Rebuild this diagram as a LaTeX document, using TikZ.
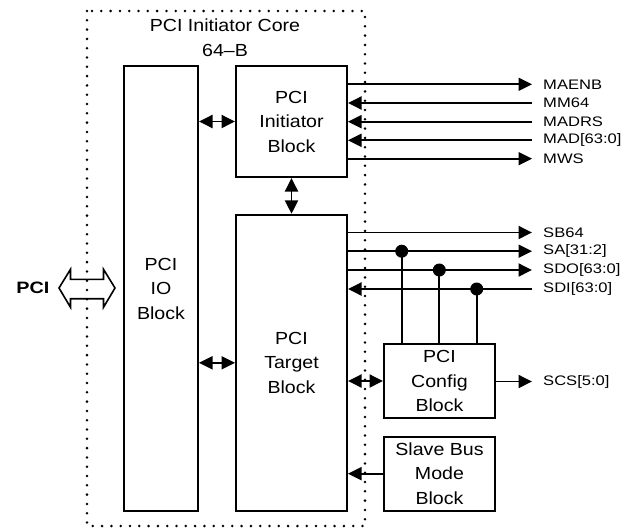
\documentclass[tikz,border=0pt]{standalone}
\usepackage{fontspec}
\setmainfont{Liberation Sans}
\newfontfamily\blkfont{Liberation Sans}[FakeStretch=1.12]
\newfontfamily\sigfont{Liberation Sans}[FakeStretch=1.2]
\newfontfamily\pcifont{Liberation Sans}[FakeStretch=1.2]
\usetikzlibrary{arrows.meta}
\tikzset{
  blk/.style={draw, line width=2pt, inner sep=0pt, align=center,
    font=\blkfont\fontsize{17.5}{24.5}\selectfont},
  sig/.style={line width=1.9pt},
  tipr/.style={-{Triangle[length=13.5pt,width=13pt]}},
  tipb/.style={{Triangle[length=13.5pt,width=13pt]}-{Triangle[length=13.5pt,width=13pt]}},
  lbl/.style={anchor=west, inner sep=0pt, font=\sigfont\fontsize{13.8}{15}\selectfont},
  dotframe/.style={line width=2.8pt, dash pattern=on 0pt off 9.3pt, line cap=round},
  junc/.style={circle, fill, inner sep=0pt, minimum size=13pt}
}
\begin{document}
\begin{tikzpicture}[x=1pt,y=-1pt]
\useasboundingbox (0,0) rectangle (634,530);
% dotted core frame
\draw[dotframe] (87,11) rectangle (365,526);
\node[align=center, font=\blkfont\fontsize{17.5}{25}\selectfont] (title) at (225,37.5) {PCI Initiator Core\\64–B};
% blocks
\node[blk, minimum width=74pt, minimum height=445pt] (io) at (161,288.5) {PCI\\IO\\Block};
\node[blk, minimum width=111pt, minimum height=111pt] (ini) at (291.5,121.5) {PCI\\Initiator\\Block};
\node[blk, minimum width=111pt, minimum height=296pt] (tgt) at (291.5,362.8) {PCI\\Target\\Block};
\node[blk, minimum width=111pt, minimum height=74pt] (cfg) at (439.5,381) {PCI\\Config\\Block};
\node[blk, minimum width=111pt, minimum height=74pt] (slv) at (439.5,473.7) {Slave Bus\\Mode\\Block};
% internal connections
\draw[sig,tipb] (io.east |- ini.west) -- (ini.west);
\draw[sig,tipb] (io.east |- tgt.west) -- (tgt.west);
\draw[sig,tipb] (ini.south) -- (tgt.north);
\draw[sig,tipb] (tgt.east |- cfg.west) -- (cfg.west);
\draw[sig,tipr] (slv.west) -- (tgt.east |- slv.west);
% PCI bus
\node[font=\pcifont\bfseries\fontsize{16.5}{18}\selectfont, inner sep=0pt] (pci) at (33,288) {PCI};
\coordinate (pl) at (59,288);
\coordinate (pr) at (115,288);
\draw[line width=1.6pt, line join=miter]
  (pl) -- (70.5,269.3) -- (70.5,279.3) -- (103.5,279.3) -- (103.5,269.3) -- (pr)
  -- (103.5,307.3) -- (103.5,298.7) -- (70.5,298.7) -- (70.5,307.3) -- cycle;
% initiator signals
\foreach \n/\y/\t in {maenb/84.3/MAENB, mm/103/MM64, madrs/121.7/MADRS, mad/140.3/MAD[63:0], mws/158.7/MWS}{
  \coordinate (\n) at (532,\y);
  \node[lbl] (\n l) at (543,\y) {\t};
}
\draw[sig,tipr] (ini.east |- maenb) -- (maenb);
\draw[sig,tipr] (mm) -- (ini.east |- mm);
\draw[sig,tipr] (madrs) -- (ini.east |- madrs);
\draw[sig,tipr] (mad) -- (ini.east |- mad);
\draw[sig,tipr] (ini.east |- mws) -- (mws);
% target signals
\foreach \n/\y/\t in {sb/232.5/SB64, sa/251.2/SA[31:2], sdo/270/SDO[63:0], sdi/289/SDI[63:0], scs/381.5/SCS[5:0]}{
  \coordinate (\n) at (532,\y);
  \node[lbl] (\n l) at (543,\y) {\t};
}
\draw[sig,tipr] (tgt.east |- sb) -- (sb);
\draw[sig,tipr] (tgt.east |- sa) -- (sa);
\draw[sig,tipr] (tgt.east |- sdo) -- (sdo);
\draw[sig,tipr] (sdi) -- (tgt.east |- sdi);
\draw[sig,tipr] (cfg.east |- scs) -- (scs);
% junctions to config block
\coordinate (j1) at (401.7,251.2);
\coordinate (j2) at (439.3,270);
\coordinate (j3) at (476.7,289);
\draw[sig] (j1) -- (cfg.north -| j1);
\draw[sig] (j2) -- (cfg.north -| j2);
\draw[sig] (j3) -- (cfg.north -| j3);
\node[junc] at (j1) {};
\node[junc] at (j2) {};
\node[junc] at (j3) {};
\end{tikzpicture}
\end{document}
